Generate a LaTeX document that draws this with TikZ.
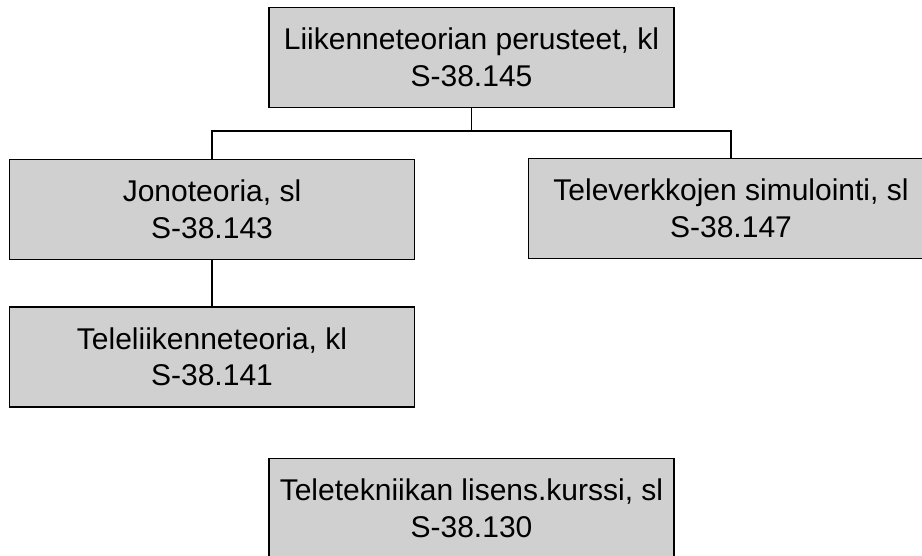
\documentclass[tikz,border=0pt]{standalone}
\usepackage{fontspec}
\setmainfont{Liberation Sans}
\definecolor{boxgray}{RGB}{208,208,208}
\begin{document}
\begin{tikzpicture}[x=1pt,y=-1pt,
  course/.style={draw=black, line width=1.8pt, fill=boxgray, rectangle,
    minimum width=405pt, minimum height=100pt, inner sep=0pt, align=center,
    font=\fontsize{30pt}{36.5pt}\selectfont,
    execute at begin node={\rule{0pt}{32pt}}},
  link/.style={draw=black, line width=1.3pt}]
\useasboundingbox (0,0) rectangle (922,556);
\clip (0,0) rectangle (922,556);
\node[course] (top) at (471.5,57.5) {Liikenneteorian perusteet, kl\\S-38.145};
\node[course] (jono) at (212,209.5) {Jonoteoria, sl\\S-38.143};
\node[course] (sim) at (731,208.5) {Televerkkojen simulointi, sl\\S-38.147};
\node[course] (tele) at (212,357) {Teleliikenneteoria, kl\\S-38.141};
\node[course] (lis) at (471.5,508.5) {Teletekniikan lisens.kurssi, sl\\S-38.130};
\coordinate (j) at (471.5,131);
\draw[link] (top.south) -- (j);
\draw[link] (j) -| (jono.north);
\draw[link] (j) -| (sim.north);
\draw[link] (jono.south) -- (tele.north);
\end{tikzpicture}
\end{document}
